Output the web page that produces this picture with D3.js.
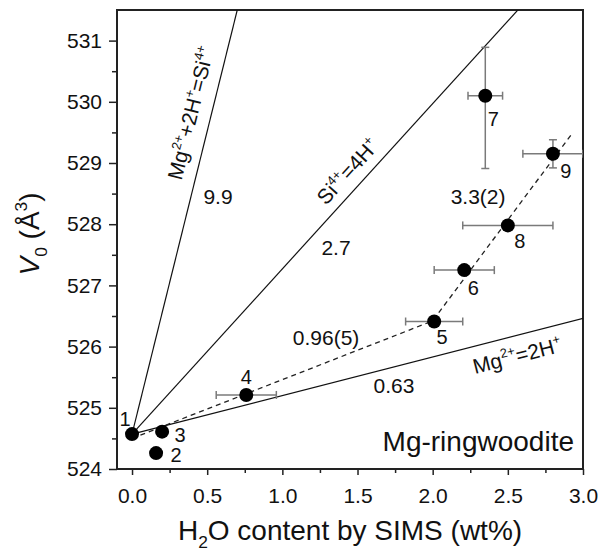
<!DOCTYPE html>
<html>
<head>
<meta charset="utf-8">
<script src="https://cdn.jsdelivr.net/npm/d3@7"></script>
<style>
  body { margin: 0; background: #fff; }
  text { font-family: "Liberation Sans", Arial, sans-serif; fill: #111; }
</style>
</head>
<body>
<div id="chart"></div>
<script>
// sample data
const sampleIds = ["1", "2", "3", "4", "5", "6", "7", "8", "9"];
const waterContent = [0, 0.16, 0.20, 0.76, 2.01, 2.21, 2.35, 2.50, 2.80];
const volume = [524.57, 524.26, 524.61, 525.21, 526.41, 527.25, 530.10, 527.98, 529.15];
const waterErr = [0, 0, 0, 0.2, 0.19, 0.2, 0.115, 0.3, 0.2];
const volErrUp = [0, 0, 0, 0, 0, 0, 0.79, 0, 0.23];
const volErrDown = [0, 0, 0, 0, 0, 0, 1.19, 0, 0.23];

// substitution mechanism lines through sample 1
const refOrigin = 524.57;
const refSlopes = [0.63, 2.7, 9.9];
const refSlopeLabels = ["0.63", "2.7", "9.9"];

// two-stage dashed fit
const fitStart = 524.5;
const fitBreaks = [0, 2.0, 2.92];
const fitSlopes = [0.96, 3.3];
const fitLabels = ["0.96(5)", "3.3(2)"];

const xTicks = [0, 0.5, 1.0, 1.5, 2.0, 2.5, 3.0];
const yTicks = [524, 525, 526, 527, 528, 529, 530, 531];

var margin = { top: 10, right: 19, bottom: 86, left: 117 },
    width = 602 - margin.left - margin.right,
    height = 555 - margin.top - margin.bottom;

var svg = d3.select("#chart")
    .append("svg")
    .attr("width", 602)
    .attr("height", 555);
var g = svg.append("g")
    .attr("transform", "translate(" + margin.left + "," + margin.top + ")");

let x = d3.scaleLinear().domain([-0.1, 3.0]).range([0, width]);
let y = d3.scaleLinear().domain([524, 531.5]).range([height, 0]);

svg.append("defs").append("clipPath").attr("id", "plotClip")
    .append("rect").attr("width", width).attr("height", height);

// text with super/subscripts: parts = [[str, kind, italic]]
function rich(sel, parts, fs) {
    let shift = 0;
    parts.forEach(p => {
        let kind = p[1] || "n";
        let target = kind === "sup" ? -0.42 * fs : kind === "sub" ? 0.3 * fs : 0;
        let t = sel.append("tspan")
            .attr("dy", target - shift)
            .attr("font-size", kind === "n" ? fs : fs * 0.62)
            .text(p[0]);
        if (p[2]) t.attr("font-style", "italic");
        shift = target;
    });
    return sel;
}

// axes
g.append("g").attr("transform", "translate(0," + height + ")")
    .call(d3.axisBottom(x).tickValues(xTicks).tickFormat(d3.format(".1f"))
        .tickSize(6).tickPadding(13).tickSizeOuter(0));
g.append("g").attr("transform", "translate(0," + height + ")")
    .call(d3.axisBottom(x).tickValues(d3.range(0.25, 3, 0.5)).tickFormat("")
        .tickSize(4).tickSizeOuter(0));
g.append("g")
    .call(d3.axisLeft(y).tickValues(yTicks).tickSize(8).tickPadding(7).tickSizeOuter(0));
g.append("g")
    .call(d3.axisLeft(y).tickValues(d3.range(524.5, 531, 1)).tickFormat("")
        .tickSize(5).tickSizeOuter(0));
g.selectAll(".domain").remove();
g.selectAll(".tick line").attr("stroke", "#222").attr("stroke-width", 1.5);
g.selectAll(".tick text").attr("font-size", 21).attr("fill", "#111")
    .style("font-family", '"Liberation Sans", Arial, sans-serif');

// frame
g.append("rect").attr("width", width).attr("height", height)
    .attr("fill", "none").attr("stroke", "#222").attr("stroke-width", 2);

let plot = g.append("g").attr("clip-path", "url(#plotClip)");

// reference lines
refSlopes.forEach(s => {
    plot.append("line")
        .attr("x1", x(0)).attr("y1", y(refOrigin))
        .attr("x2", x(3.1)).attr("y2", y(refOrigin + s * 3.1))
        .attr("stroke", "#111").attr("stroke-width", 1.2);
});

// dashed fit
let fitPts = [[fitBreaks[0], fitStart]];
fitSlopes.forEach((s, i) => {
    let prev = fitPts[i];
    fitPts.push([fitBreaks[i + 1], prev[1] + s * (fitBreaks[i + 1] - prev[0])]);
});
plot.append("path")
    .attr("d", d3.line().x(d => x(d[0])).y(d => y(d[1]))(fitPts))
    .attr("fill", "none").attr("stroke", "#222").attr("stroke-width", 1.3)
    .attr("stroke-dasharray", "5,4");

// error bars
let idx = d3.range(sampleIds.length);
let cap = 4;
idx.filter(i => waterErr[i] > 0).forEach(i => {
    let cy = y(volume[i]), x1 = x(waterContent[i] - waterErr[i]), x2 = x(waterContent[i] + waterErr[i]);
    plot.append("line").attr("x1", x1).attr("x2", x2).attr("y1", cy).attr("y2", cy)
        .attr("stroke", "#7a7a7a").attr("stroke-width", 1.5);
    [x1, x2].forEach(v => plot.append("line").attr("x1", v).attr("x2", v)
        .attr("y1", cy - cap).attr("y2", cy + cap)
        .attr("stroke", "#7a7a7a").attr("stroke-width", 1.5));
});
idx.filter(i => volErrUp[i] > 0).forEach(i => {
    let cx = x(waterContent[i]), y1 = y(volume[i] + volErrUp[i]), y2 = y(volume[i] - volErrDown[i]);
    plot.append("line").attr("x1", cx).attr("x2", cx).attr("y1", y1).attr("y2", y2)
        .attr("stroke", "#7a7a7a").attr("stroke-width", 1.5);
    [y1, y2].forEach(v => plot.append("line").attr("y1", v).attr("y2", v)
        .attr("x1", cx - cap).attr("x2", cx + cap)
        .attr("stroke", "#7a7a7a").attr("stroke-width", 1.5));
});

// points
g.selectAll("circle.pt")
    .data(idx)
    .enter()
    .append("circle")
    .attr("class", "pt")
    .attr("cx", i => x(waterContent[i]))
    .attr("cy", i => y(volume[i]))
    .attr("r", 7)
    .attr("fill", "#000");

// point labels
const labelOffsets = [[-7, -8.5], [20, 9], [18, 10], [0, -10.5], [8, 22.5],
    [9, 24.5], [8, 30.5], [12, 22.5], [13, 24.5]];
g.selectAll("text.pid")
    .data(idx)
    .enter()
    .append("text")
    .attr("class", "pid")
    .attr("text-anchor", "middle")
    .attr("font-size", 20)
    .attr("x", i => x(waterContent[i]) + labelOffsets[i][0])
    .attr("y", i => y(volume[i]) + labelOffsets[i][1])
    .text(i => sampleIds[i]);

// slope numbers
const slopeLabelPos = [[1.743, 525.25], [1.357, 527.49], [0.572, 528.33]];
refSlopeLabels.forEach((t, i) => {
    g.append("text").attr("text-anchor", "middle").attr("font-size", 21)
        .attr("x", x(slopeLabelPos[i][0])).attr("y", y(slopeLabelPos[i][1])).text(t);
});
const fitLabelPos = [[1.291, 526.02], [2.302, 528.33]];
fitLabels.forEach((t, i) => {
    g.append("text").attr("text-anchor", "middle").attr("font-size", 21)
        .attr("x", x(fitLabelPos[i][0])).attr("y", y(fitLabelPos[i][1])).text(t);
});

// mechanism labels along lines
function lineLabel(slope, xd, offset, parts) {
    let px = x(xd), py = y(refOrigin + slope * xd);
    let ang = Math.atan2(y(refOrigin + slope * (xd + 0.1)) - py, x(xd + 0.1) - px) * 180 / Math.PI;
    let t = g.append("text")
        .attr("transform", `translate(${px},${py}) rotate(${ang})`)
        .attr("text-anchor", "middle")
        .attr("y", offset);
    rich(t, parts, 21);
}
lineLabel(refSlopes[0], 2.53, 27, [["Mg"], ["2+", "sup"], ["=2H"], ["+", "sup"]]);
lineLabel(refSlopes[1], 1.52, -10, [["Si"], ["4+", "sup"], ["=4H"], ["+", "sup"]]);
lineLabel(refSlopes[2], 0.522, -13, [["Mg"], ["2+", "sup"], ["+2H"], ["+", "sup"], ["=Si"], ["4+", "sup"]]);

g.append("text").attr("text-anchor", "end").attr("font-size", 28)
    .attr("x", width - 9).attr("y", height - 18).text("Mg-ringwoodite");

// axis titles
rich(svg.append("text").attr("text-anchor", "middle")
    .attr("x", margin.left + width / 2).attr("y", 540),
    [["H"], ["2", "sub"], ["O content by SIMS (wt%)"]], 28);
rich(svg.append("text").attr("text-anchor", "middle")
    .attr("transform", "translate(39," + 234 + ") rotate(-90)"),
    [["V", "n", true], ["0", "sub"], [" (Å"], ["3", "sup"], [")"]], 28);
</script>
</body>
</html>
